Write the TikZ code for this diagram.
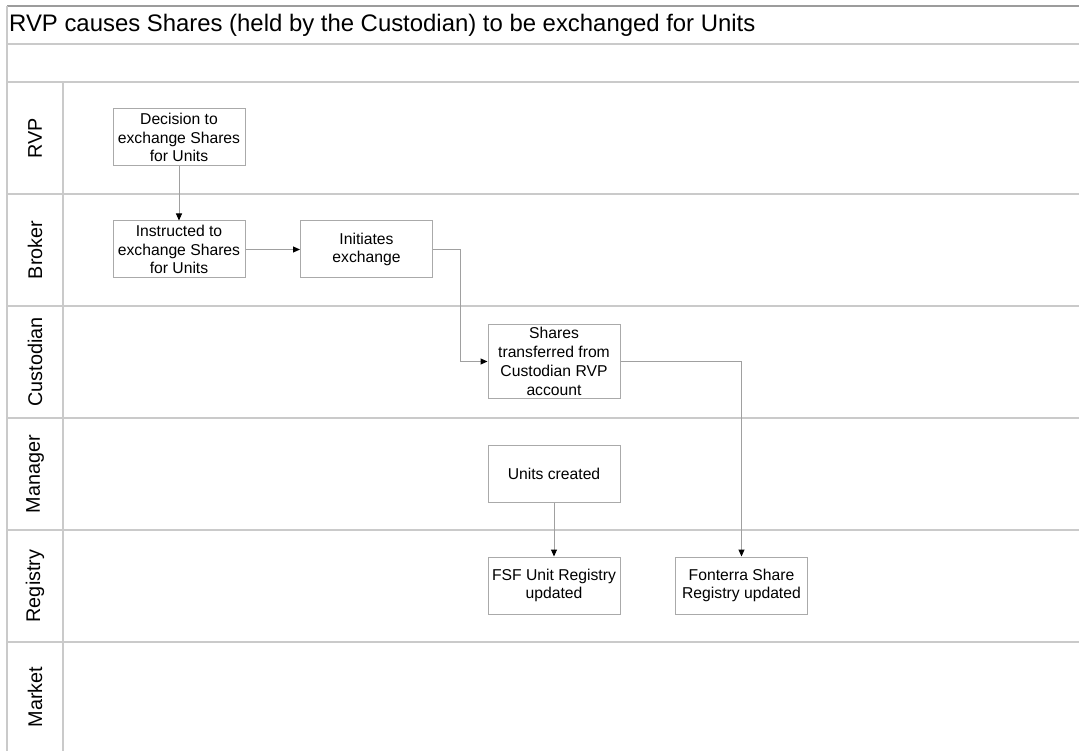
\documentclass[tikz,border=0pt]{standalone}
\usepackage{fontspec}
\setmainfont{Liberation Sans}
\usetikzlibrary{arrows.meta}
\definecolor{laneline}{HTML}{CACACA}
\definecolor{frameline}{HTML}{9C9C9C}
\definecolor{boxline}{HTML}{AAAAAA}
\definecolor{flowline}{HTML}{A0A0A0}
\tikzset{
	stepbox/.style={draw=boxline, line width=1pt, rectangle, minimum width=132pt,
		minimum height=57pt, align=center, inner sep=1pt,
		font=\fontsize{15.7}{18.8}\selectfont},
	lanetitle/.style={rotate=90, inner sep=0pt, font=\fontsize{19.8}{22}\selectfont},
	flow/.style={draw=flowline, line width=1pt,
		-{Triangle[length=7pt,width=6pt,color=black]}},
}

\begin{document}
\begin{tikzpicture}[x=1pt,y=-1pt]
			\useasboundingbox (0,0) rectangle (1079,751);
			% frame and lanes
			\draw[frameline, line width=1.5pt] (7,6) -- (1079,6);
			\draw[laneline, line width=2pt] (7,44) -- (1079,44);
			\draw[laneline, line width=2pt] (7,82) -- (1079,82);
			\draw[laneline, line width=2pt] (7,194) -- (1079,194);
			\draw[laneline, line width=2pt] (7,306) -- (1079,306);
			\draw[laneline, line width=2pt] (7,418) -- (1079,418);
			\draw[laneline, line width=2pt] (7,530) -- (1079,530);
			\draw[laneline, line width=2pt] (7,642) -- (1079,642);
			\draw[laneline, line width=2pt] (7,6) -- (7,751);
			\draw[laneline, line width=2pt] (63,82) -- (63,751);
			\node[anchor=west, inner sep=0pt, font=\fontsize{23.9}{28}\selectfont] (heading) at (9,25)
				{RVP causes Shares (held by the Custodian) to be exchanged for Units};
			% lane titles
			\node[lanetitle] (lrvp) at (35,138) {RVP};
			\node[lanetitle] (lbroker) at (35,250) {Broker};
			\node[lanetitle] (lcustodian) at (35,362) {Custodian};
			\node[lanetitle] (lmanager) at (35,474) {Manager};
			\node[lanetitle] (lregistry) at (35,586) {Registry};
			\node[lanetitle] (lmarket) at (35,697) {Market};
			% steps
			\node[stepbox] (decide) at (179,137.5) {Decision to\\exchange Shares\\for Units};
			\node[stepbox] (instruct) at (179,249.5) {Instructed to\\exchange Shares\\for Units};
			\node[stepbox] (initiate) at (366.5,249.5) {Initiates\\exchange};
			\node[stepbox, minimum height=73pt] (transfer) at (554,361.5)
				{Shares\\transferred from\\Custodian RVP\\account};
			\node[stepbox] (create) at (554,473.5) {Units created};
			\node[stepbox] (fsfreg) at (554,585.5) {FSF Unit Registry\\updated};
			\node[stepbox] (fontreg) at (741.5,585.5) {Fonterra Share\\Registry updated};
			% connectors
			\draw[flow] (decide) -- (instruct);
			\draw[flow] (instruct) -- (initiate);
			\draw[flow] (initiate.east) -- ++(27.5,0) |- (transfer.west);
			\draw[flow] (transfer.east) -| (fontreg.north);
			\draw[flow] (create) -- (fsfreg);
		\end{tikzpicture}
\end{document}
